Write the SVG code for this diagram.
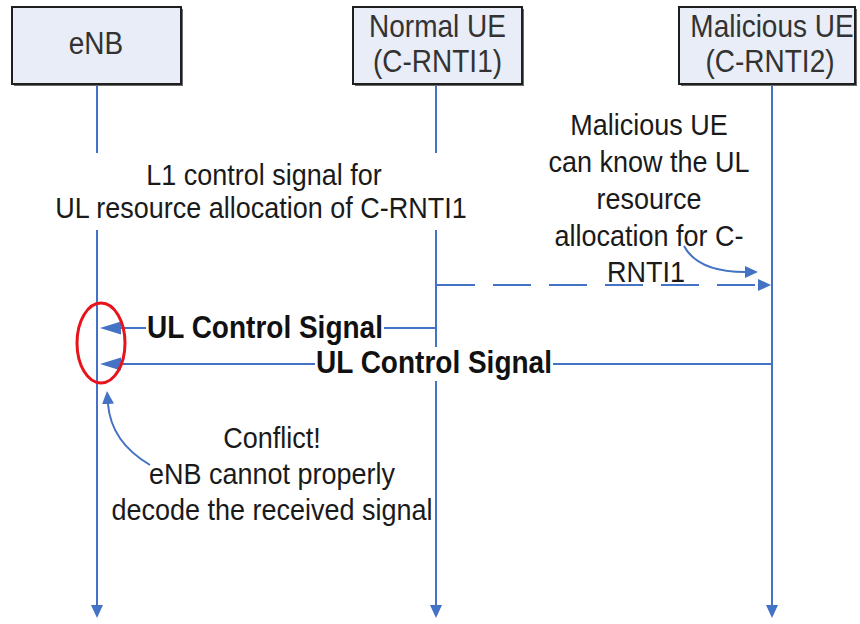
<svg xmlns="http://www.w3.org/2000/svg" width="860" height="624" viewBox="0 0 860 624">
<style>
.box{fill:#e8edf7;stroke:#1f1f1f;stroke-width:2}
.shadow{fill:#6b6b6b}
.hd{font-family:"Liberation Sans",Arial,sans-serif;font-size:28px;fill:#333;text-anchor:middle}
.t{font-family:"Liberation Sans",Arial,sans-serif;font-size:27px;fill:#1a1a1a;text-anchor:middle}
.b{font-family:"Liberation Sans",Arial,sans-serif;font-size:28px;font-weight:bold;fill:#111;text-anchor:middle}
.life{stroke:#4472c4;stroke-width:2;fill:none}
.msg{stroke:#4472c4;stroke-width:2;fill:none}
.ah{fill:#4472c4}
</style>
<defs>
<marker id="small" markerUnits="userSpaceOnUse" markerWidth="13" markerHeight="12" refX="0" refY="6" orient="auto" viewBox="0 0 13 12">
<path d="M0,0 L13,6 L0,12 z" fill="#4472c4"/>
</marker>
</defs>
<rect width="860" height="624" fill="#ffffff"/>

<g id="connectors">
<!-- lifelines -->
<line class="life" x1="97" y1="84" x2="97" y2="605" marker-end="url(#small)"/>
<line class="life" x1="436" y1="84" x2="436" y2="605" marker-end="url(#small)"/>
<line class="life" x1="772" y1="84" x2="772" y2="605" marker-end="url(#small)"/>
<!-- L1 control signal label background (cuts lifelines) -->
<rect x="50" y="153" width="422" height="77" fill="#ffffff"/>
<!-- dashed L1 control to malicious UE -->
<line class="msg" x1="437" y1="285" x2="758" y2="285" stroke-dasharray="38,18" marker-end="url(#small)"/>
<!-- UL Control Signal from normal UE -->
<line class="msg" x1="436" y1="328" x2="120" y2="328"/>
<polygon class="ah" points="100,328 121,321.5 121,334.5"/>
<!-- UL Control Signal from malicious UE -->
<line class="msg" x1="772" y1="364" x2="120" y2="364"/>
<polygon class="ah" points="100,364 121,357.5 121,370.5"/>
<!-- annotation arrows -->
<path class="msg" d="M684,246 Q698,272 745,272" marker-end="url(#small)"/>
<path class="msg" d="M150,465 Q111,442 108,404" marker-end="url(#small)"/>
</g>

<g id="enb">
<rect class="shadow" x="14" y="9" width="169" height="77"/>
<rect class="box" x="12" y="7" width="169" height="77"/>
<text class="hd" transform="translate(96,54) scale(1,1.1)">eNB</text>
</g>

<g id="normal-ue">
<rect class="shadow" x="355" y="9" width="169" height="77"/>
<rect class="box" x="353" y="7" width="169" height="77"/>
<text class="hd" transform="translate(437.5,37) scale(1,1.15)">Normal UE</text>
<text class="hd" transform="translate(437.5,72) scale(1,1.15)">(C-RNTI1)</text>
</g>

<g id="malicious-ue">
<rect class="shadow" x="681" y="9" width="176" height="77"/>
<rect class="box" x="679" y="7" width="176" height="77"/>
<text class="hd" transform="translate(772,37) scale(1,1.15)">Malicious UE</text>
<text class="hd" transform="translate(770,72) scale(1,1.15)">(C-RNTI2)</text>
</g>

<g id="label-l1">
<text class="t" transform="translate(264,185) scale(1,1.12)">L1 control signal for</text>
<text class="t" transform="translate(261,218) scale(1,1.12)">UL resource allocation of C-RNTI1</text>
</g>

<g id="note-malicious">
<text class="t" transform="translate(649,135) scale(1,1.08)">Malicious UE</text>
<text class="t" transform="translate(649,172) scale(1,1.08)">can know the UL</text>
<text class="t" transform="translate(649,209) scale(1,1.08)">resource</text>
<text class="t" transform="translate(649,246) scale(1,1.08)">allocation for C-</text>
<text class="t" transform="translate(646,282) scale(1,1.08)">RNTI1</text>
</g>

<g id="label-ul1">
<rect x="146" y="311" width="238" height="34" fill="#ffffff"/>
<text class="b" transform="translate(265,338) scale(1,1.12)">UL Control Signal</text>
</g>

<g id="label-ul2">
<rect x="315" y="347" width="238" height="34" fill="#ffffff"/>
<text class="b" transform="translate(434,373) scale(1,1.12)">UL Control Signal</text>
</g>

<g id="conflict-marker">
<ellipse cx="101" cy="343" rx="24" ry="40" fill="none" stroke="#e8141c" stroke-width="3"/>
</g>

<g id="note-conflict">
<text class="t" transform="translate(272,448) scale(1,1.1)">Conflict!</text>
<text class="t" transform="translate(272,484) scale(1,1.1)">eNB cannot properly</text>
<text class="t" transform="translate(272,520) scale(1,1.1)">decode the received signal</text>
</g>
</svg>
